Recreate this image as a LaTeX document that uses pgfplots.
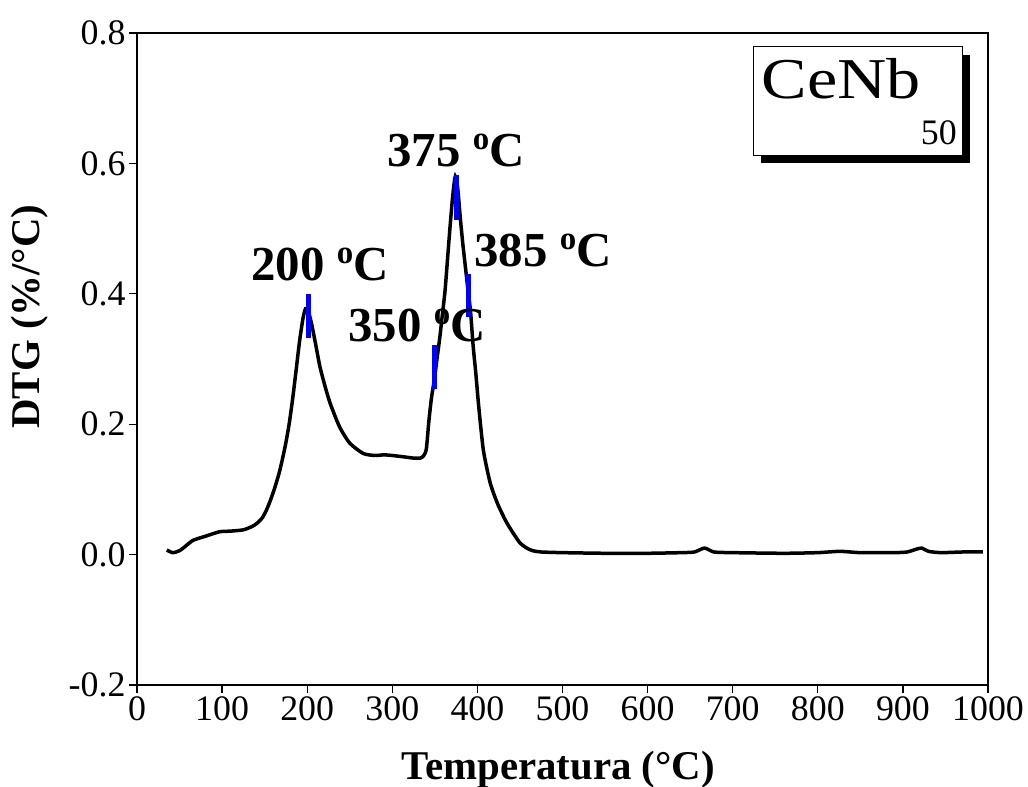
\documentclass[border=0pt]{standalone}
\usepackage{fontspec}
\setmainfont{Liberation Serif}
\usepackage{pgfplots}
\pgfplotsset{compat=1.18}
\newcommand{\ordo}{\raisebox{17bp}{\fontsize{33}{33}\selectfont o}}
\begin{document}
\begin{tikzpicture}
\begin{axis}[
    name=ax, at={(0,0)}, anchor=south west,
    scale only axis, width=851bp, height=652bp,
    xmin=0, xmax=1000, ymin=-0.2, ymax=0.8,
    xtick={0,100,...,1000},
    ytick={-0.2,0,0.2,0.4,0.6,0.8},
    xtick pos=bottom, ytick pos=left,
    tick align=outside, major tick length=8bp,
    tick style={black, line width=1.2bp},
    axis line style={line width=1.5bp},
    /pgf/number format/assume math mode=true,
    tick label style={font=\fontsize{36}{40}\selectfont},
    x tick label style={/pgf/number format/1000 sep={}},
    y tick label style={/pgf/number format/.cd, fixed, fixed zerofill, precision=1},
    xlabel={Temperatura (°C)},
    ylabel={DTG (\%/°C)},
    label style={font=\bfseries\fontsize{41}{44}\selectfont},
    xlabel style={at={(axis description cs:0.495,0)}, anchor=base, yshift=-94bp},
    ylabel style={at={(axis description cs:-0.126,0.565)}, anchor=center},
    clip=false,
]
% DTG curve
\addplot[black, line width=3.5bp, smooth, tension=0.4] coordinates {
(35,0.007) (42,0.003) (50,0.006) (58,0.014) (66,0.022) (80,0.028) (97,0.035)
(110,0.036) (125,0.038) (135,0.043) (141,0.048) (147,0.056) (152,0.068)
(157,0.084) (162,0.103) (167,0.125) (171,0.147) (175,0.172) (179,0.202)
(183,0.240) (187,0.283) (191,0.327) (195,0.362) (198,0.377) (201,0.374)
(205,0.355) (210,0.322) (215,0.288) (221,0.258) (227,0.232) (238,0.196)
(250,0.171) (266,0.155) (280,0.152) (290,0.153) (300,0.152) (313,0.150)
(325,0.148) (333,0.148) (337,0.152) (340,0.162) (343,0.205) (346,0.240)
(349,0.265) (352,0.295) (356,0.335) (359,0.370) (362,0.405) (365,0.455)
(368,0.505) (371,0.550) (374,0.580) (377,0.560) (380,0.515) (383,0.475)
(386,0.440) (389,0.405) (392,0.372) (395,0.320) (398,0.280) (401,0.235)
(404,0.195) (407,0.160) (411,0.133) (415,0.110) (419,0.094) (425,0.074)
(434,0.050) (442,0.033) (450,0.018) (458,0.010) (465,0.006) (475,0.004)
(500,0.003) (550,0.002) (600,0.002) (640,0.003) (655,0.004) (667,0.010)
(678,0.004) (700,0.003) (760,0.002) (800,0.003) (826,0.005) (850,0.003)
(890,0.003) (905,0.004) (915,0.008) (922,0.010) (930,0.005) (945,0.003)
(970,0.004) (994,0.004)
};
% blue peak markers
\addplot[blue, line width=5bp] coordinates {(201,0.332) (201,0.400)};
\addplot[blue, line width=5bp] coordinates {(349,0.254) (349,0.321)};
\addplot[blue, line width=5bp] coordinates {(375,0.513) (375,0.582)};
\addplot[blue, line width=5bp] coordinates {(389,0.365) (389,0.431)};
% peak labels
\node[anchor=base, font=\bfseries\fontsize{49}{50}\selectfont] at (axis cs:215,0.421) {200 \ordo C};
\node[anchor=base, font=\bfseries\fontsize{49}{50}\selectfont] at (axis cs:329,0.327) {350 \ordo C};
\node[anchor=base, font=\bfseries\fontsize{49}{50}\selectfont] at (axis cs:375,0.595) {375 \ordo C};
\node[anchor=base, font=\bfseries\fontsize{49}{50}\selectfont] at (axis cs:477,0.442) {385 \ordo C};
% sample box with shadow
\fill[black] ([xshift=8bp,yshift=-8bp]rel axis cs:0.724,0.813) rectangle ([xshift=8bp,yshift=-8bp]rel axis cs:0.970,0.979);
\draw[fill=white, line width=0.8bp] (rel axis cs:0.724,0.813) rectangle (rel axis cs:0.970,0.979);
\node[anchor=base west, inner sep=0pt] at (rel axis cs:0.734,0.900)
  {\fontsize{58}{60}\selectfont\scalebox{1.18}[1]{CeNb}\raisebox{-46bp}{\fontsize{36}{38}\selectfont 50}};
\end{axis}
\pgfresetboundingbox
\path[use as bounding box] (-137bp,-102bp) rectangle (891bp,685bp);
\end{tikzpicture}
\end{document}
